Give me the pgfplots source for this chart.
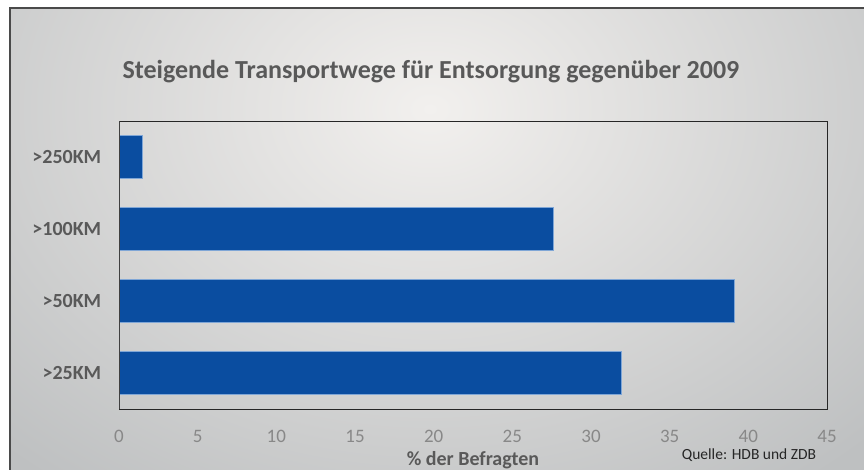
\documentclass[border=0pt]{standalone}
\usepackage{pgfplots}
\pgfplotsset{compat=1.18}
\usepackage{fontspec}
\setmainfont{Carlito}
\definecolor{barblue}{HTML}{0A4DA0}
\definecolor{baredge}{HTML}{7FA6D6}
\definecolor{titlegray}{HTML}{595959}
\definecolor{tickgray}{HTML}{888888}
\definecolor{bglight}{HTML}{F2F0EE}
\definecolor{bgdark}{HTML}{BEC0C1}
\definecolor{framegray}{HTML}{4A4A4A}
\begin{document}
\begin{tikzpicture}[x=1pt,y=1pt]
\useasboundingbox (0,0) rectangle (864,469);
\begin{scope}
\clip (0,0) rectangle (864,469);
\fill[white] (0,0) rectangle (864,469);
\fill[bgdark] (10,-5) rectangle (870,461);
\begin{scope}
\clip (10,-5) rectangle (870,461);
\shade[inner color=bglight, outer color=bgdark] (430,360) ellipse (620 and 470);
\end{scope}
\draw[framegray, line width=1.2pt] (10,-5) -- (10,461) -- (870,461);
\end{scope}
\node[font=\bfseries\fontsize{26}{30}\selectfont, text=titlegray] at (431,397) {Steigende Transportwege für Entsorgung gegenüber 2009};
\begin{axis}[
  at={(119pt,60pt)}, anchor=south west,
  scale only axis, width=708pt, height=288pt,
  xmin=0, xmax=45, ymin=-0.5, ymax=3.5,
  xbar, bar width=43pt,
  xtick={0,5,...,45},
  ytick={0,1,2,3},
  yticklabels={>25KM,>50KM,>100KM,>250KM},
  tick style={draw=none},
  axis line style={draw=black!85, line width=0.9pt},
  xticklabel style={font=\fontsize{19}{22}\selectfont, text=tickgray, yshift=-18pt},
  yticklabel style={font=\bfseries\fontsize{20}{23}\selectfont, text=titlegray, xshift=-10pt},
  /pgf/number format/assume math mode=true,
  axis background/.style={fill=none},
]
\addplot[fill=barblue, draw=baredge, line width=0.5pt] coordinates {(31.9,0) (39.1,1) (27.6,2) (1.5,3)};
\draw[line width=2.2pt, color=black!75] (rel axis cs:0,0) -- (rel axis cs:0,1);
\end{axis}
\node[font=\bfseries\fontsize{20}{23}\selectfont, text=titlegray] at (473,9) {\% der Befragten};
\node[font=\fontsize{15.5}{18}\selectfont, text=black!85] at (749,14) {Quelle: HDB und ZDB};
\end{tikzpicture}
\end{document}
